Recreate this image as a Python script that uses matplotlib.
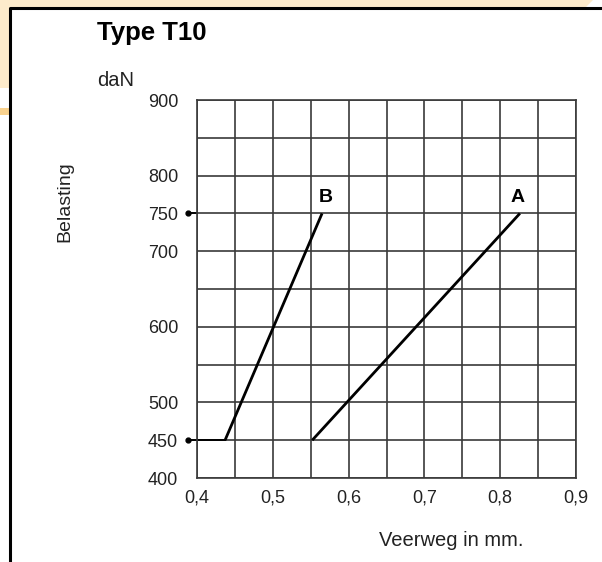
import matplotlib
matplotlib.use("Agg")
import matplotlib.pyplot as plt
from matplotlib.patches import Polygon, Rectangle
from matplotlib.lines import Line2D
import numpy as np

plt.rcParams['font.family'] = ['Liberation Sans', 'DejaVu Sans']

# data
load = [450, 750]
veerweg_a = [0.552, 0.826]
veerweg_b = [0.437, 0.565]
x_ticks = np.round(np.arange(0.4, 0.91, 0.05), 2)
x_labels = ["0,4", "", "0,5", "", "0,6", "", "0,7", "", "0,8", "", "0,9"]
y_ticks = [400, 450, 500, 550, 600, 650, 700, 750, 800, 850, 900]
y_labels = ["400", "450", "500", "", "600", "", "700", "750", "800", "", "900"]
marked_loads = [450, 750]

W, H = 602, 562
fig = plt.figure(figsize=(W / 100, H / 100), dpi=100)


def fx(px):
    return px / W


def fy(py):
    return 1 - py / H


# orange tab behind the white panel
light = '#fdebcb'
fig.patches.append(Polygon([(fx(0), fy(0)), (fx(593), fy(0)), (fx(585), fy(8)),
                            (fx(9), fy(8)), (fx(9), fy(88)), (fx(0), fy(88))],
                           closed=True, transform=fig.transFigure, color=light, lw=0, zorder=0))
fig.patches.append(Rectangle((fx(0), fy(115)), fx(9), 7 / H, transform=fig.transFigure,
                             color='#f9d28e', lw=0, zorder=0))
# panel border (left and top)
fig.lines.append(Line2D([fx(10), fx(10), fx(602)], [fy(562), fy(8), fy(8)],
                        transform=fig.transFigure, color='black', lw=2.2, zorder=1))

ax = fig.add_axes([fx(197), fy(478), (576 - 197) / W, (478 - 100) / H])
ax.set_xlim(0.4, 0.9)
ax.set_ylim(400, 900)

ax.set_xticks(x_ticks)
ax.set_xticklabels(x_labels)
ax.set_yticks(y_ticks)
ax.set_yticklabels(y_labels)
ax.tick_params(length=0, labelsize=13, colors='#222222')
ax.tick_params(axis='x', pad=8)
ax.tick_params(axis='y', pad=13.5)
ax.grid(True, color='#3a3a3a', lw=1.2)
for s in ax.spines.values():
    s.set_color('#3a3a3a')
    s.set_linewidth(1.2)

ax.plot(veerweg_a, load, color='black', lw=2.0, solid_capstyle='butt')
ax.plot(veerweg_b, load, color='black', lw=2.0, solid_capstyle='butt')

# markers and leader lines for the rated loads
tr = ax.get_yaxis_transform()
for v in marked_loads:
    ax.plot([-0.024, 0.0], [v, v], transform=tr, color='black', lw=1.4, clip_on=False)
    ax.plot([-0.024], [v], 'o', transform=tr, color='black', ms=3.5, clip_on=False)
ax.plot([0.4, veerweg_b[0]], [450, 450], color='black', lw=1.4)

ax.text(veerweg_a[1] - 0.003, 760, "A", fontsize=14, fontweight='bold', ha='center', va='bottom')
ax.text(veerweg_b[1] + 0.005, 760, "B", fontsize=14, fontweight='bold', ha='center', va='bottom')

fig.text(fx(97), fy(33), "Type T10", fontsize=18.5, fontweight='bold', ha='left', va='center')
fig.text(fx(97), fy(80), "daN", fontsize=14.5, color='#222222', ha='left', va='center')
fig.text(fx(65), fy(202), "Belasting", fontsize=14, color='#222222', rotation=90,
         ha='center', va='center')
fig.text(fx(451), fy(540), "Veerweg in mm.", fontsize=14.5, color='#222222', ha='center', va='center')

fig.savefig("out.png", dpi=100)
